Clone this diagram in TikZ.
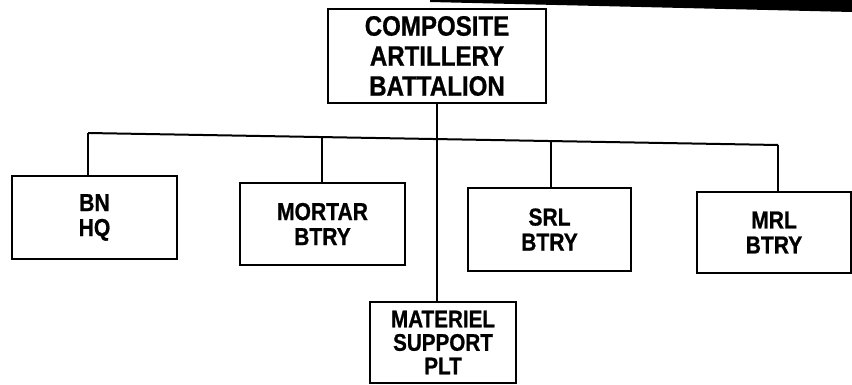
\documentclass[tikz,border=0pt]{standalone}
\usepackage{fontspec}
\setmainfont{Liberation Sans}[FakeStretch=0.86,FakeBold=0.8]
\begin{document}
\begin{tikzpicture}[x=1pt,y=-1pt,
  unitbox/.style={draw, line width=2pt, inner sep=0pt, align=center,
    font=\bfseries\fontsize{24.5}{25}\selectfont},
  topbox/.style={unitbox, font=\bfseries\fontsize{28}{30}\selectfont},
  matbox/.style={unitbox, font=\bfseries\fontsize{24}{23.5}\selectfont},
  link/.style={line width=2pt}]
\useasboundingbox (0,0) rectangle (852,385);
% scan artefact bar at the top
\fill (430,0) -- (852,0) -- (852,12) -- (430,2) -- cycle;
% units
\node[topbox, minimum width=218pt, minimum height=94pt] (top) at (437,56) {COMPOSITE\\ARTILLERY\\BATTALION};
\node[unitbox, minimum width=165pt, minimum height=83pt] (bn) at (94.5,217.5) {BN\\HQ};
\node[unitbox, minimum width=165pt, minimum height=82pt] (mortar) at (322.5,224) {MORTAR\\BTRY};
\node[unitbox, minimum width=163pt, minimum height=83pt] (srl) at (549.5,229.5) {SRL\\BTRY};
\node[unitbox, minimum width=154pt, minimum height=81pt] (mrl) at (774,232.5) {MRL\\BTRY};
\node[matbox, minimum width=146pt, minimum height=81pt] (mat) at (443,342.5) {MATERIEL\\SUPPORT\\PLT};
% bus coordinates
\coordinate (b1) at (88,133);
\coordinate (b2) at (322,137);
\coordinate (b4) at (551,141);
\coordinate (b5) at (778,145);
% connectors
\draw[link] (b1) -- (b5);
\draw[link] (b1) -- (b1 |- bn.north);
\draw[link] (b2) -- (b2 |- mortar.north);
\draw[link] (b4) -- (b4 |- srl.north);
\draw[link] (b5) -- (b5 |- mrl.north);
\draw[link] (top.south) -- (top.south |- mat.north);
\end{tikzpicture}
\end{document}
